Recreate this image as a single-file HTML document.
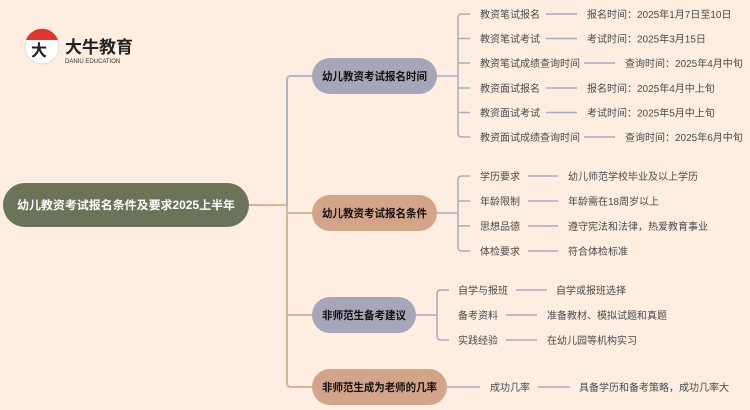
<!DOCTYPE html>
<html><head><meta charset="utf-8"><style>
html,body{margin:0;padding:0;background:#fdeee1;}
svg{display:block;font-family:"Liberation Sans","Noto Sans CJK SC",sans-serif;}
.c{font-size:10px;fill:#4a4a4a;}
.b{font-size:11px;font-weight:bold;fill:#111;}
</style></head><body>
<svg width="750" height="410" viewBox="0 0 750 410">
<rect width="750" height="410" fill="#fdeee1"/>
<!-- logo -->
<circle cx="42" cy="47" r="17" fill="#fff" stroke="#ddd"/>
<path d="M26 40 A17 17 0 0 1 58 40 Z" fill="#e0342c"/>
<text x="31" y="56" font-size="16" font-weight="bold" fill="#222">大</text>
<text x="65" y="53" font-size="17" font-weight="bold" fill="#222">大牛教育</text>
<text x="65" y="63" font-size="6" fill="#333">DANIU EDUCATION</text>
<!-- trunk connectors -->
<g fill="none" stroke-width="2">
<path d="M249 205 H287" stroke="#dcb39a"/>
<path d="M287 205 V383 Q287 387 291 387 H312" stroke="#dcb39a"/>
<path d="M287 213 H312" stroke="#dcb39a"/>
<path d="M287 205 V80 Q287 76 291 76 H312" stroke="#b3b3c8"/>
<path d="M287 315 H312" stroke="#dcb39a"/>
</g>
<g fill="none" stroke="#a9aac2" stroke-width="1.5">
<path d="M437 76 H458 M458 18 Q458 14 462 14 H470 M458 133 Q458 137 462 137 H470 M458 18 V133 M458 38.5 H470 M458 63 H470 M458 88 H470 M458 112.5 H470"/>
<path d="M546 14 H577 M546 38.5 H577 M584 63 H615 M546 88 H577 M546 112.5 H577 M584 137 H615"/>
<path d="M437 213 H458 M458 180 Q458 176 462 176 H470 M458 247 Q458 251 462 251 H470 M458 180 V247 M458 201 H470 M458 226 H470"/>
<path d="M528 176 H558 M528 201 H558 M528 226 H558 M528 251 H558"/>
<path d="M416 315 H437 M437 294 Q437 290 441 290 H449 M437 336 Q437 340 441 340 H449 M437 294 V336"/>
<path d="M516 290 H547 M506 315 H537 M506 340 H537"/>
<path d="M447 387 H480 M538 387 H570"/>
</g>
<!-- root -->
<rect x="3" y="183" width="246" height="44" rx="22" fill="#6b7359"/>
<text x="17" y="209" font-size="11.5" font-weight="bold" fill="#fff" textLength="218" lengthAdjust="spacingAndGlyphs">幼儿教资考试报名条件及要求2025上半年</text>
<!-- branch nodes -->
<rect x="312" y="58" width="125" height="36" rx="18" fill="#a6a6b8"/>
<text class="b" x="322" y="80" textLength="105" lengthAdjust="spacingAndGlyphs">幼儿教资考试报名时间</text>
<rect x="312" y="195" width="125" height="36" rx="18" fill="#d4a488"/>
<text class="b" x="322" y="217" textLength="105" lengthAdjust="spacingAndGlyphs">幼儿教资考试报名条件</text>
<rect x="312" y="297" width="104" height="36" rx="18" fill="#a6a6b8"/>
<text class="b" x="322" y="319" textLength="84" lengthAdjust="spacingAndGlyphs">非师范生备考建议</text>
<rect x="312" y="369" width="135" height="36" rx="18" fill="#d4a488"/>
<text class="b" x="322" y="391" textLength="115" lengthAdjust="spacingAndGlyphs">非师范生成为老师的几率</text>
<g class="c">
<text x="480" y="18">教资笔试报名</text><text x="587" y="18">报名时间：2025年1月7日至10日</text>
<text x="480" y="42.5">教资笔试考试</text><text x="587" y="42.5">考试时间：2025年3月15日</text>
<text x="480" y="67">教资笔试成绩查询时间</text><text x="625" y="67">查询时间：2025年4月中旬</text>
<text x="480" y="92">教资面试报名</text><text x="587" y="92">报名时间：2025年4月中上旬</text>
<text x="480" y="116.5">教资面试考试</text><text x="587" y="116.5">考试时间：2025年5月中上旬</text>
<text x="480" y="141">教资面试成绩查询时间</text><text x="625" y="141">查询时间：2025年6月中旬</text>
<text x="480" y="180">学历要求</text><text x="568" y="180">幼儿师范学校毕业及以上学历</text>
<text x="480" y="205">年龄限制</text><text x="568" y="205">年龄需在18周岁以上</text>
<text x="480" y="230">思想品德</text><text x="568" y="230">遵守宪法和法律，热爱教育事业</text>
<text x="480" y="255">体检要求</text><text x="568" y="255">符合体检标准</text>
<text x="458" y="294">自学与报班</text><text x="556" y="294">自学或报班选择</text>
<text x="458" y="319">备考资料</text><text x="547" y="319">准备教材、模拟试题和真题</text>
<text x="458" y="344">实践经验</text><text x="547" y="344">在幼儿园等机构实习</text>
<text x="490" y="391">成功几率</text><text x="579" y="391">具备学历和备考策略，成功几率大</text>
</g>
</svg>
</body></html>
